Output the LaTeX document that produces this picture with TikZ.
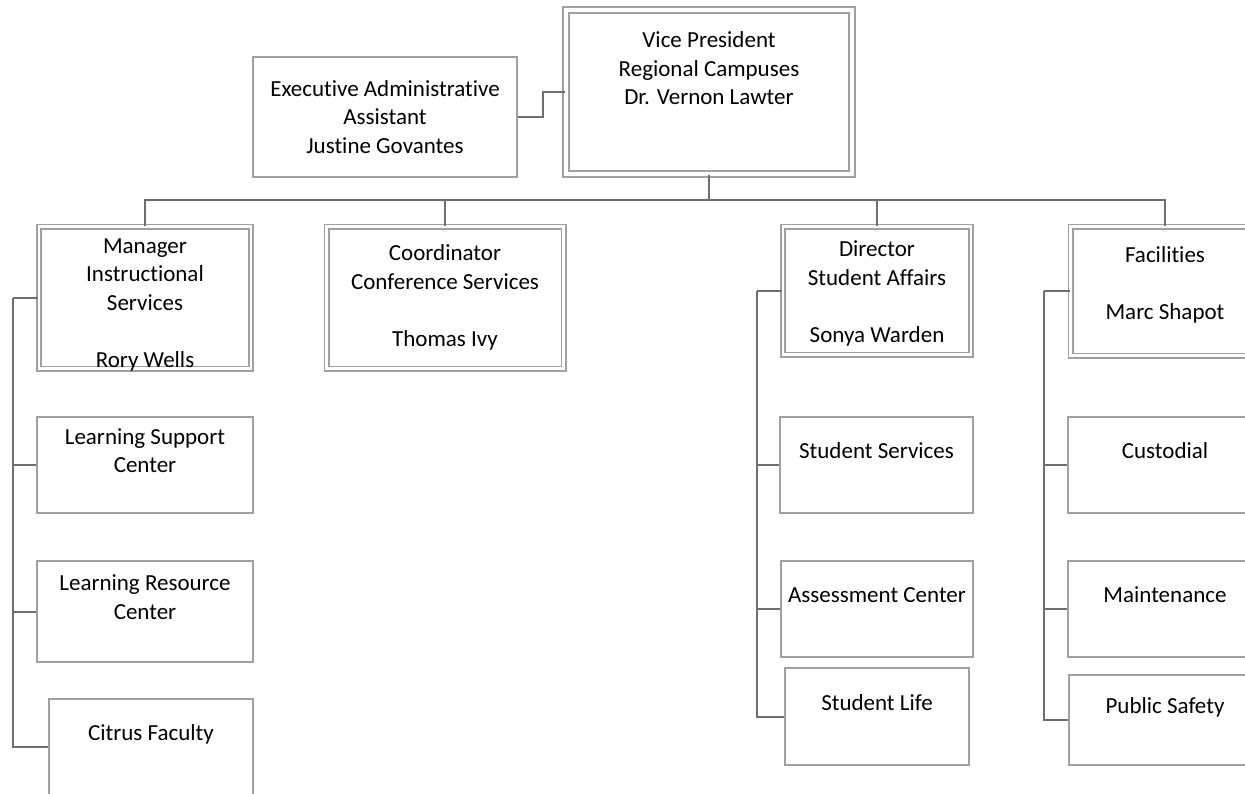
\documentclass[tikz,border=0pt]{standalone}
\usepackage{fontspec}
\setmainfont{Carlito}[Ligatures={NoCommon}]
\definecolor{boxgray}{HTML}{A0A0A0}
\definecolor{linegray}{HTML}{6E6E6E}
\begin{document}
\begin{tikzpicture}[x=1pt,y=-1pt, semithick, every node/.style={font=\fontsize{23}{28.5}\selectfont, align=center}]
    \tikzset{box/.style={draw=boxgray,line width=2pt,rectangle,inner sep=0pt}};
    \tikzset{dbox/.style={box,line width=1.6pt,double=white,double distance=2.8pt}};
    \tikzset{conn/.style={draw=linegray,line width=2pt}};
    \useasboundingbox (0,0) rectangle (1245,793);
    \clip (0,0) rectangle (1245,793);
    % top
    \node[dbox, line width=2pt, double distance=4pt, minimum width=286, minimum height=164] (sVP) at (709,92) {Vice President\\Regional Campuses\\Dr. Vernon Lawter\\~\\[-10pt]~};
    \node[box, minimum width=264, minimum height=120] (sEA) at (385,117) {Executive Administrative\\Assistant\\Justine Govantes};
    % second row
    \node[dbox, minimum width=212, minimum height=142] (sMIS) at (145,297.5) {\rule{0pt}{25pt}Manager\\Instructional\\Services\\~\\\raisebox{0pt}[\height][0pt]{Rory Wells}};
    \node[dbox, minimum width=237, minimum height=142] (sCCS) at (445,297.5) {Coordinator\\Conference Services\\~\\Thomas Ivy};
    \node[dbox, minimum width=188, minimum height=128] (sDSA) at (877,290.5) {\rule{0pt}{22pt}Director\\Student Affairs\\~\\Sonya Warden};
    \node[dbox, minimum width=189, minimum height=129] (sFac) at (1165,291) {Facilities\\~\\Marc Shapot\\[-12pt]~};
    % instructional services
    \node[box, minimum width=216, minimum height=96] (sLSC) at (145,465) {Learning Support\\Center\\~};
    \node[box, minimum width=216, minimum height=101] (sLRC) at (145,611.5) {Learning Resource\\Center\\~};
    \node[box, minimum width=204, minimum height=96] (sCF) at (151,747) {Citrus Faculty\\~};
    % student affairs
    \node[box, minimum width=193, minimum height=96] (sSS) at (876.5,465) {Student Services\\~};
    \node[box, minimum width=192, minimum height=96] (sAC) at (877,609) {Assessment Center\\~};
    \node[box, minimum width=184, minimum height=97] (sSL) at (877,716.5) {Student Life\\~};
    % facilities
    \node[box, minimum width=194, minimum height=96] (sCus) at (1165,465) {Custodial\\~};
    \node[box, minimum width=194, minimum height=96] (sMnt) at (1165,609) {Maintenance\\~};
    \node[box, minimum width=193, minimum height=90] (sPS) at (1165,720) {Public Safety\\~};
    \coordinate (sBus) at (709,200);
    \path (sMIS.west) ++(-25.5,0) coordinate (sMsp);
    \path (sDSA.west) ++(-25.5,0) coordinate (sDsp);
    \path (sFac.west) ++(-25.5,0) coordinate (sFsp);
    {
      \draw[conn] (sEA.east) -- ++(25,0) |- (sVP.west);
      \draw[conn] (sVP.south) -- (sBus);
      \foreach \n in {sMIS,sCCS,sDSA,sFac}
        \draw[conn] (sBus) -| (\n.north);
      \draw[conn] (sMIS.west) -- (sMsp);
      \foreach \n in {sLSC,sLRC,sCF}
        \draw[conn] (sMsp) |- (\n.west);
      \draw[conn] (sDSA.west) -- (sDsp);
      \foreach \n in {sSS,sAC,sSL}
        \draw[conn] (sDsp) |- (\n.west);
      \draw[conn] (sFac.west) -- (sFsp);
      \foreach \n in {sCus,sMnt,sPS}
        \draw[conn] (sFsp) |- (\n.west);
    }
\end{tikzpicture}
\end{document}
